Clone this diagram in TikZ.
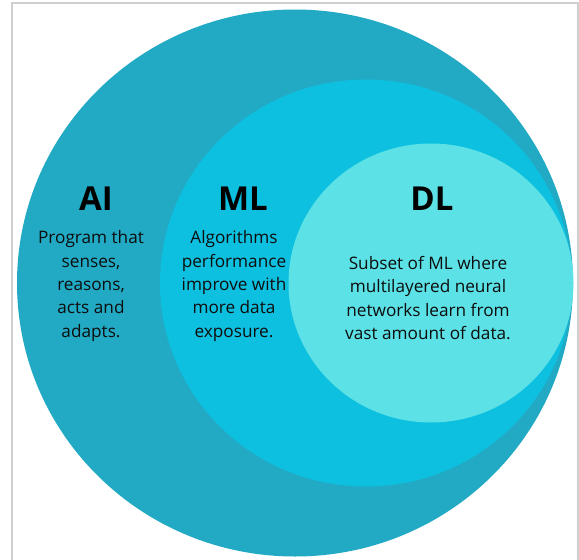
\documentclass[tikz,border=0pt]{standalone}
\usepackage{fontspec}
\setmainfont{Open Sans}
\usetikzlibrary{shapes.geometric}

\definecolor{aiblue}{HTML}{22AAC5}
\definecolor{mlblue}{HTML}{0DC0E0}
\definecolor{dlblue}{HTML}{5CE1E6}
\definecolor{framegray}{HTML}{CFCFCF}

\begin{document}
\begin{tikzpicture}
[
	          x = 1pt,
	          y = -1pt,
	  set/.style = { ellipse, draw=none, inner sep=0pt },
	title/.style = { font=\fontsize{33}{39}\selectfont\bfseries, text=black },
	 body/.style = { align=center, font=\fontsize{17.2}{23.3}\selectfont, text=black!95 }
]
	\useasboundingbox (0,0) rectangle (579,560);

	% frame round the figure
	\draw [framegray, line width=1.5pt] (12,560) -- (12,3) -- (578,3) -- (578,560);

	% nested sets
	\node (ai) at (295,283) [set, fill=aiblue, minimum width=556pt, minimum height=547pt] {};
	\node (ml) at (366,283) [set, fill=mlblue, minimum width=412pt, minimum height=407pt] {};
	\node (dl) at (431,283) [set, fill=dlblue, minimum width=285pt, minimum height=279pt] {};

	% titles
	\node (aititle) at (96,198.5)  [title] {AI};
	\node (mltitle) at (243,198.5) [title] {ML};
	\node (dltitle) at (432,198.5) [title] {DL};

	% descriptions
	\node (aitext) at (91,286)  [body] {Program that\\senses,\\reasons,\\acts and\\adapts.};
	\node (mltext) at (234,286) [body] {Algorithms\\performance\\improve with\\more data\\exposure.};
	\node (dltext) at (428,298) [body] {Subset of ML where\\multilayered neural\\networks learn from\\vast amount of data.};
\end{tikzpicture}
\end{document}
